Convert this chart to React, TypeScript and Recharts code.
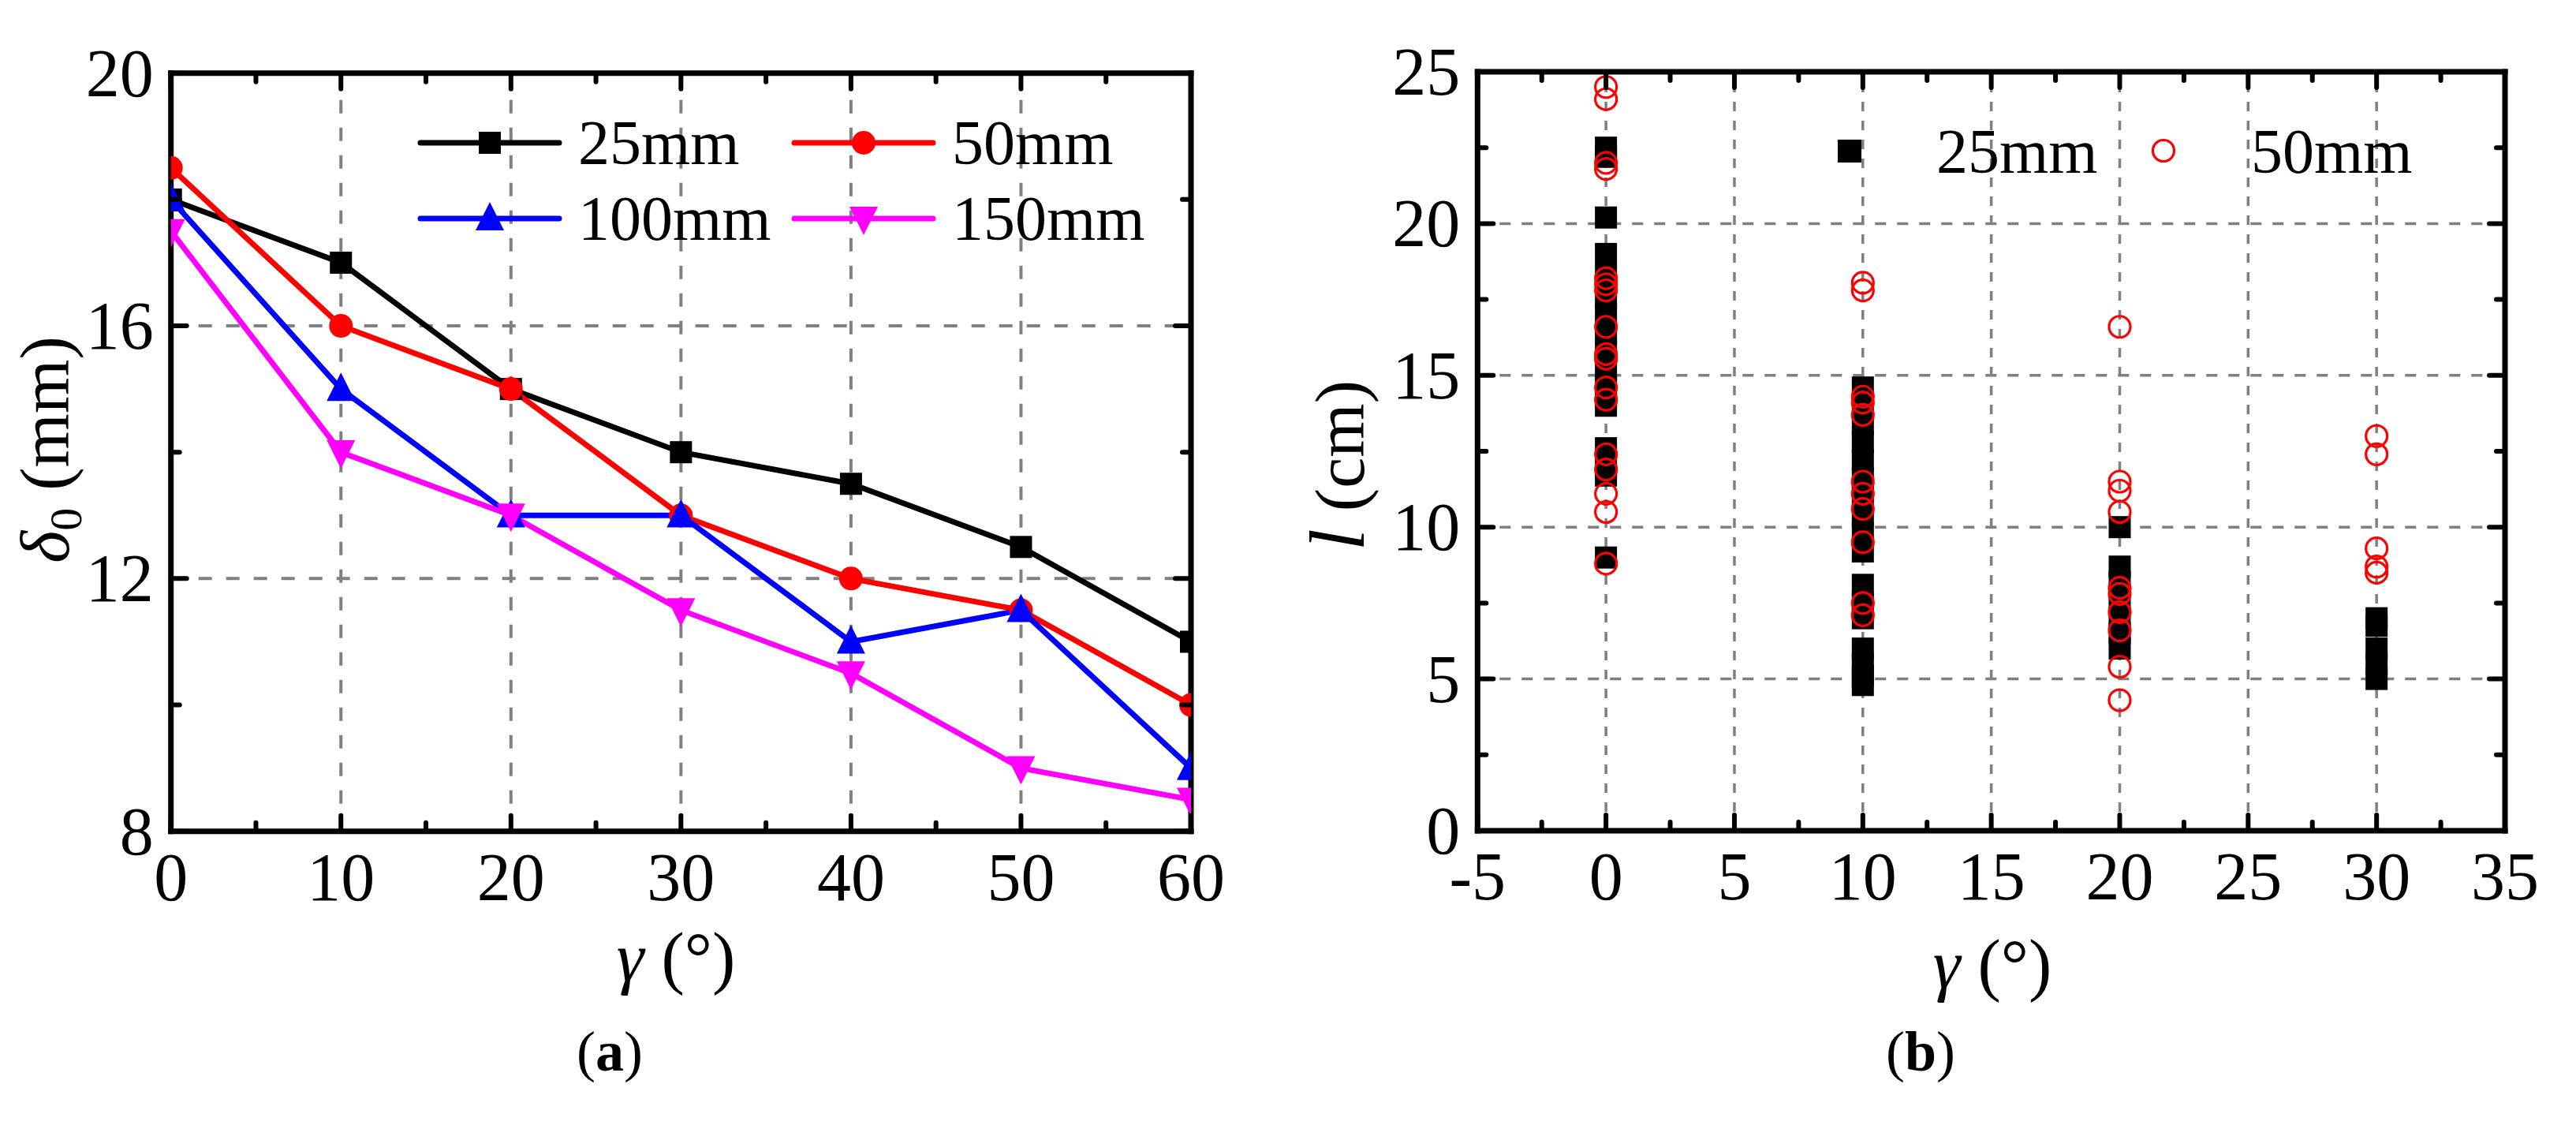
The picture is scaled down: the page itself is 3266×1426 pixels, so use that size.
import React from 'react'
import { LineChart, Line, ScatterChart, Scatter, XAxis, YAxis, ReferenceLine } from 'recharts'

// (a) δ0 vs γ for four sizes
const ANGLES = [0, 10, 20, 30, 40, 50, 60]
const D25 = [18, 17, 15, 14, 13.5, 12.5, 11]
const D50 = [18.5, 16, 15, 13, 12, 11.5, 10]
const D100 = [18, 15, 13, 13, 11, 11.5, 9]
const D150 = [17.5, 14, 13, 11.5, 10.5, 9, 8.5]

const A_X_TICKS = [0, 5, 10, 15, 20, 25, 30, 35, 40, 45, 50, 55, 60]
const A_X_MAJOR = [0, 10, 20, 30, 40, 50, 60]
const A_Y_TICKS = [8, 10, 12, 14, 16, 18, 20]
const A_Y_MAJOR = [8, 12, 16, 20]

// (b) l vs γ, 25mm (squares) and 50mm (open circles)
const B25_G0 = [22.5, 22.2, 20.2, 19.0, 18.3, 17.6, 17.0, 16.4, 15.8, 15.2, 14.6, 14.0, 12.6, 12.0, 11.7, 9.0]
const B25_G10 = [14.6, 14.0, 13.4, 12.8, 12.2, 11.6, 11.0, 10.4, 9.8, 9.2, 8.1, 7.5, 7.0, 6.0, 5.5, 5.1, 4.8]
const B25_G20 = [10.0, 8.7, 8.2, 7.6, 7.0, 6.5, 6.0]
const B25_G30 = [7.0, 6.75, 6.0, 5.5, 5.0]
const B50_G0 = [24.5, 24.1, 22.0, 21.8, 18.2, 18.0, 17.8, 16.6, 15.7, 15.55, 14.6, 14.2, 12.4, 11.9, 11.1, 10.5, 8.8]
const B50_G10 = [18.05, 17.8, 14.3, 14.1, 13.7, 11.5, 11.1, 10.6, 9.5, 7.5, 7.1]
const B50_G20 = [16.6, 11.5, 11.2, 10.5, 8.0, 7.8, 7.2, 6.6, 5.4, 4.3]
const B50_G30 = [13.0, 12.4, 9.3, 8.7, 8.5]

const B_X_TICKS = [-5, -2.5, 0, 2.5, 5, 7.5, 10, 12.5, 15, 17.5, 20, 22.5, 25, 27.5, 30, 32.5, 35]
const B_X_MAJOR = [-5, 0, 5, 10, 15, 20, 25, 30, 35]
const B_Y_TICKS = [0, 2.5, 5, 7.5, 10, 12.5, 15, 17.5, 20, 22.5, 25]
const B_Y_MAJOR = [0, 5, 10, 15, 20, 25]

const FONT = '"Liberation Serif", "Times New Roman", serif'
const GRID = '#808080'

const rowsA = ANGLES.map((g, i) => ({ g, d25: D25[i], d50: D50[i], d100: D100[i], d150: D150[i] }))
const pts = (g: number, ls: number[]) => ls.map(l => ({ g, l }))
const pts25 = [...pts(0, B25_G0), ...pts(10, B25_G10), ...pts(20, B25_G20), ...pts(30, B25_G30)]
const pts50 = [...pts(0, B50_G0), ...pts(10, B50_G10), ...pts(20, B50_G20), ...pts(30, B50_G30)]

type Side = 'bottom' | 'left' | 'top' | 'right'

function makeTick(side: Side, majors: number[], labels: boolean) {
  return (props: any) => {
    const { x, y, payload, index } = props
    const v = payload.value
    const major = majors.includes(v)
    const len = major ? 20 : 11
    let x2 = x, y2 = y
    if (side === 'bottom') y2 = y - len
    if (side === 'top') y2 = y + len
    if (side === 'left') x2 = x + len
    if (side === 'right') x2 = x - len
    return (
      <g key={`${side}-${index}`}>
        <line x1={x} y1={y} x2={x2} y2={y2} stroke="#000" strokeWidth={6} strokeLinecap="round" />
        {labels && major && side === 'bottom' && (
          <text x={x} y={y + 87} textAnchor="middle" fontFamily={FONT} fontSize={86} fill="#000">{v}</text>
        )}
        {labels && major && side === 'left' && (
          <text x={x - 22} y={y + 29} textAnchor="end" fontFamily={FONT} fontSize={86} fill="#000">{v}</text>
        )}
      </g>
    )
  }
}

const axisLine = { stroke: '#000', strokeWidth: 7, strokeLinecap: 'square' as const }

const square = (s: number, fill: string) => (p: any) =>
  <rect key={`s-${p.index}`} x={p.cx - s / 2} y={p.cy - s / 2} width={s} height={s} fill={fill} />
const circle = (r: number, fill: string) => (p: any) =>
  <circle key={`c-${p.index}`} cx={p.cx} cy={p.cy} r={r} fill={fill} />
const triUp = (s: number, fill: string) => (p: any) =>
  <path key={`u-${p.index}`} d={`M${p.cx},${p.cy - s * 0.58} L${p.cx + s / 2},${p.cy + s * 0.42} L${p.cx - s / 2},${p.cy + s * 0.42} Z`} fill={fill} />
const triDown = (s: number, fill: string) => (p: any) =>
  <path key={`d-${p.index}`} d={`M${p.cx},${p.cy + s * 0.58} L${p.cx + s / 2},${p.cy - s * 0.42} L${p.cx - s / 2},${p.cy - s * 0.42} Z`} fill={fill} />

const SERIES_A = [
  { key: 'd25', name: '25mm', color: '#000000', dot: square(28, '#000000') },
  { key: 'd50', name: '50mm', color: '#FF0000', dot: circle(15, '#FF0000') },
  { key: 'd100', name: '100mm', color: '#0000FF', dot: triUp(36, '#0000FF') },
  { key: 'd150', name: '150mm', color: '#FF00FF', dot: triDown(36, '#FF00FF') },
]

// axes get a 1px box (a 0px axis is not drawn), margins absorb it
function ChartA() {
  return (
    <LineChart width={1633} height={1426} data={rowsA}
      margin={{ top: 91.7, right: 122, bottom: 371.3, left: 215.7 }}>
      {A_X_MAJOR.filter(v => v > 0 && v < 60).map(v => (
        <ReferenceLine key={`gx${v}`} x={v} stroke={GRID} strokeWidth={4} strokeDasharray="17 18" />
      ))}
      {A_Y_MAJOR.filter(v => v > 8 && v < 20).map(v => (
        <ReferenceLine key={`gy${v}`} y={v} stroke={GRID} strokeWidth={4} strokeDasharray="17 18" />
      ))}
      <XAxis dataKey="g" type="number" domain={[0, 60]} ticks={A_X_TICKS} interval={0} allowDataOverflow
        height={1} tickSize={0} tickMargin={0} axisLine={axisLine} tickLine={false} tick={makeTick('bottom', A_X_MAJOR, true)} />
      <XAxis xAxisId="top" orientation="top" dataKey="g" type="number" domain={[0, 60]} ticks={A_X_TICKS} interval={0} allowDataOverflow
        height={1} tickSize={0} tickMargin={0} axisLine={axisLine} tickLine={false} tick={makeTick('top', A_X_MAJOR, false)} />
      <YAxis type="number" domain={[8, 20]} ticks={A_Y_TICKS} interval={0} allowDataOverflow
        width={1} tickSize={0} tickMargin={0} axisLine={axisLine} tickLine={false} tick={makeTick('left', A_Y_MAJOR, true)} />
      <YAxis yAxisId="right" orientation="right" type="number" domain={[8, 20]} ticks={A_Y_TICKS} interval={0} allowDataOverflow
        width={1} tickSize={0} tickMargin={0} axisLine={axisLine} tickLine={false} tick={makeTick('right', A_Y_MAJOR, false)} />
      {SERIES_A.map(s => (
        <Line key={s.key} type="linear" dataKey={s.key} name={s.name} stroke={s.color} strokeWidth={7}
          dot={s.dot} activeDot={false} isAnimationActive={false} />
      ))}
    </LineChart>
  )
}

function ChartB() {
  return (
    <ScatterChart width={1633} height={1426}
      margin={{ top: 90, right: 89, bottom: 372, left: 239.3 }}>
      {B_X_MAJOR.filter(v => v > -5 && v < 35).map(v => (
        <ReferenceLine key={`gx${v}`} x={v} stroke={GRID} strokeWidth={3.5} strokeDasharray="12 12" />
      ))}
      {B_Y_MAJOR.filter(v => v > 0 && v < 25).map(v => (
        <ReferenceLine key={`gy${v}`} y={v} stroke={GRID} strokeWidth={3.5} strokeDasharray="14 14" />
      ))}
      <XAxis dataKey="g" type="number" domain={[-5, 35]} ticks={B_X_TICKS} interval={0} allowDataOverflow
        height={1} tickSize={0} tickMargin={0} axisLine={axisLine} tickLine={false} tick={makeTick('bottom', B_X_MAJOR, true)} />
      <XAxis xAxisId="top" orientation="top" dataKey="g" type="number" domain={[-5, 35]} ticks={B_X_TICKS} interval={0} allowDataOverflow
        height={1} tickSize={0} tickMargin={0} axisLine={axisLine} tickLine={false} tick={makeTick('top', B_X_MAJOR, false)} />
      <YAxis dataKey="l" type="number" domain={[0, 25]} ticks={B_Y_TICKS} interval={0} allowDataOverflow
        width={1} tickSize={0} tickMargin={0} axisLine={axisLine} tickLine={false} tick={makeTick('left', B_Y_MAJOR, true)} />
      <YAxis yAxisId="right" orientation="right" dataKey="l" type="number" domain={[0, 25]} ticks={B_Y_TICKS} interval={0} allowDataOverflow
        width={1} tickSize={0} tickMargin={0} axisLine={axisLine} tickLine={false} tick={makeTick('right', B_Y_MAJOR, false)} />
      <Scatter name="25mm" data={pts25} dataKey="l" shape={square(28, '#000000')} isAnimationActive={false} />
      <Scatter name="50mm" data={pts50} dataKey="l"
        shape={(p: any) => <circle cx={p.cx} cy={p.cy} r={13.5} fill="none" stroke="#FF0000" strokeWidth={3.2} />}
        isAnimationActive={false} />
    </ScatterChart>
  )
}

function LegendMarker({ i, cx, cy }: { i: number; cx: number; cy: number }) {
  const s = SERIES_A[i]
  return s.dot({ cx, cy, index: i })
}

function Overlay() {
  const rowsY = [181, 277]
  const colX = [533, 1007]
  return (
    <svg width={3266} height={1426} style={{ position: 'absolute', left: 0, top: 0, pointerEvents: 'none' }}
      fontFamily={FONT} fill="#000">
      {/* legend (a) */}
      {SERIES_A.map((s, i) => {
        const x0 = colX[i % 2]
        const y0 = rowsY[Math.floor(i / 2)]
        return (
          <g key={s.key}>
            <line x1={x0} y1={y0} x2={x0 + 176} y2={y0} stroke={s.color} strokeWidth={7} strokeLinecap="round" />
            <LegendMarker i={i} cx={x0 + 88} cy={y0} />
            <text x={x0 + 200} y={y0 + 27} fontSize={80}>{s.name}</text>
          </g>
        )
      })}
      {/* legend (b) */}
      <rect x={2330} y={177} width={30} height={29} fill="#000" />
      <text x={2455} y={219} fontSize={80}>25mm</text>
      <circle cx={2743} cy={191} r={13.5} fill="none" stroke="#FF0000" strokeWidth={3.2} />
      <text x={2854} y={219} fontSize={80}>50mm</text>

      {/* axis titles */}
      <text transform="translate(87,570) rotate(-90)" textAnchor="middle" fontSize={88}>
        <tspan fontStyle="italic">δ</tspan><tspan fontSize={58} dy={16}>0</tspan><tspan dy={-16} dx={22}>(mm)</tspan>
      </text>
      <text x={857} y={1243} textAnchor="middle" fontSize={88}>
        <tspan fontStyle="italic">γ</tspan><tspan dx={22}>(°)</tspan>
      </text>
      <text transform="translate(1729,590) rotate(-90)" textAnchor="middle" fontSize={88}>
        <tspan fontStyle="italic" fontSize={100}>l</tspan><tspan dx={22}>(cm)</tspan>
      </text>
      <text x={2526} y={1252} textAnchor="middle" fontSize={88}>
        <tspan fontStyle="italic">γ</tspan><tspan dx={22}>(°)</tspan>
      </text>

      {/* panel labels */}
      <text x={773} y={1357} textAnchor="middle" fontSize={72}>(<tspan fontWeight="bold">a</tspan>)</text>
      <text x={2435} y={1357} textAnchor="middle" fontSize={72}>(<tspan fontWeight="bold">b</tspan>)</text>
    </svg>
  )
}

export default function App() {
  return (
    <div style={{ position: 'absolute', left: 0, top: 0, width: 3266, height: 1426, background: '#fff' }}>
      <div style={{ position: 'absolute', left: 0, top: 0 }}><ChartA /></div>
      <div style={{ position: 'absolute', left: 1633, top: 0 }}><ChartB /></div>
      <Overlay />
    </div>
  )
}
